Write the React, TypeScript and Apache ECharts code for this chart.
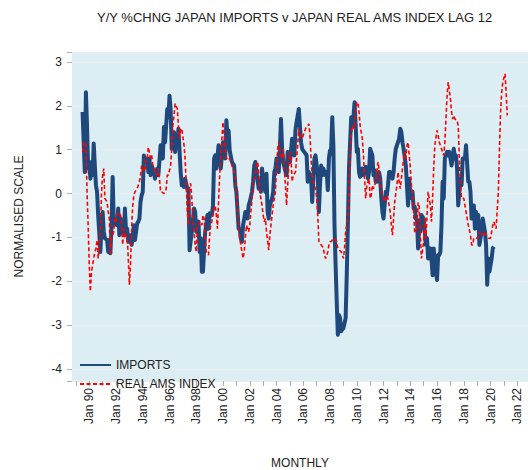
import React, { useEffect, useRef } from "react";
import * as echarts from "echarts";

const TITLE = "Y/Y %CHNG JAPAN IMPORTS v JAPAN REAL AMS INDEX LAG 12";
const SERIES_NAMES = ["IMPORTS", "REAL AMS INDEX"];
const X_AXIS_NAME = "MONTHLY";
const Y_AXIS_NAME = "NORMALISED SCALE";
const BASE_YEAR = 1990; // month 0 = Jan 1990
const X_RANGE = [1988.71, 2022.8];
const Y_RANGE = [-4.274, 3.228];

// [months since Jan 1990, value]
const IMPORTS: [number, number][] = [
  [-6, 1.86], [-5, 1.17], [-4, 0.49], [-3, 2.31], [-2, 1.55], [-1, 0.57], [0, 0.72], [1, 0.34], [2, 0.72], [3, 0.42],
  [4, 1.14], [5, 0.64], [6, 0.19], [7, 0.04], [8, -0.49], [10, -1.33], [11, -0.72], [12, -0.42], [13, -0.87], [14, -1.02],
  [16, -1.06], [17, -1.33], [18, -1.06], [19, -1.36], [20, -0.72], [21, 0.38], [22, -0.72], [23, -0.57], [25, -0.72], [26, -0.34],
  [27, -0.95], [28, -0.57], [29, -0.87], [31, -0.95], [32, -0.34], [33, -0.87], [34, -0.8], [35, -1.1], [37, -0.95], [38, -1.17],
  [39, -1.02], [40, -0.72], [41, -1.06], [43, -0.68], [44, -0.64], [45, -0.57], [46, -0.19], [47, -0.04], [48, 0.04], [49, 0.87],
  [50, 0.72], [52, 0.8], [53, 0.49], [54, 0.8], [55, 0.42], [56, 0.64], [58, 0.49], [59, 0.34], [60, 0.49], [61, 0.57],
  [62, 0.42], [64, 1.1], [65, 1.1], [66, 0.8], [67, 1.52], [68, 1.17], [70, 1.93], [71, 1.74], [72, 2.23], [73, 1.93],
  [74, 1.02], [76, 1.4], [77, 0.95], [78, 1.17], [79, 1.1], [80, 1.48], [82, 0.49], [83, 0.19], [84, 0.27], [85, 0.15],
  [86, 0.34], [88, 0.11], [89, 0.08], [90, -1.29], [92, -0.87], [94, -0.34], [95, -0.42], [96, -0.87], [98, -0.64], [99, -1.33],
  [100, -1.02], [101, -1.78], [102, -1.78], [104, -0.87], [105, -0.72], [106, -0.49], [107, -0.8], [108, -0.45], [110, -0.49], [111, -0.27],
  [112, 0.8], [113, 0.87], [114, 0.57], [116, 1.1], [117, 0.95], [118, 0.57], [119, 0.87], [120, 1.17], [122, 0.8], [123, 1.67],
  [124, 1.33], [125, 1.44], [126, 0.98], [128, 0.72], [129, 0.68], [130, 0.64], [131, 0.19], [132, 0.04], [134, -0.8], [135, -0.8],
  [136, -1.02], [137, -1.1], [138, -0.72], [140, -0.42], [141, -0.49], [142, -0.57], [143, -0.27], [144, -0.19], [146, 0.04], [147, 0.27],
  [148, 0.64], [149, 0.72], [150, 0.49], [152, 0.11], [153, 0.19], [154, 0.04], [155, 0.57], [156, 0.34], [158, 0.04], [159, 0.45],
  [160, -0.42], [161, -0.57], [162, -0.27], [164, -0.11], [165, 0.04], [166, 0.49], [167, 0.57], [168, 0.8], [170, 0.49], [171, 1.02],
  [172, 1.7], [173, 1.02], [174, 0.72], [176, 0.5], [177, 0.42], [178, 0.95], [179, 0.9], [180, 0.72], [182, 1.25], [183, 1.0],
  [184, 0.87], [185, 1.45], [186, 1.63], [188, 1.93], [189, 1.55], [190, 1.17], [191, 1.02], [192, 0.98], [194, 0.91], [195, 0.87],
  [196, 0.27], [197, 0.49], [199, 0.35], [200, -0.19], [202, 0.8], [203, 0.87], [205, 0.42], [206, -0.42], [207, 0.19], [208, 0.64],
  [209, 0.42], [210, 0.57], [212, 0.42], [213, 0.49], [214, 0.08], [215, 0.8], [216, 0.98], [217, 1.02], [218, 1.74], [219, 1.1],
  [220, -0.72], [221, -1.63], [222, -2.46], [223, -3.22], [224, -2.77], [225, -2.84], [226, -3.14], [227, -3.1], [228, -3.07], [230, -2.84],
  [231, -1.86], [232, -0.72], [233, 0.57], [234, 1.17], [235, 1.74], [236, 1.55], [237, 1.74], [238, 2.08], [239, 1.55], [240, 0.95],
  [241, 1.02], [242, 0.49], [243, 0.38], [244, 0.49], [245, 0.57], [246, 0.42], [248, 0.61], [249, 0.57], [250, 0.34], [251, 0.49],
  [252, 1.02], [254, 0.87], [255, 0.42], [256, 0.53], [257, 0.27], [258, 0.27], [260, 0.49], [261, 0.34], [262, -0.11], [263, -0.42],
  [264, -0.57], [266, 0.04], [267, -0.04], [268, 0.19], [269, 0.49], [270, 0.49], [272, 0.34], [273, 0.49], [274, 0.8], [275, 1.02],
  [276, 1.1], [278, 1.25], [279, 1.48], [280, 1.4], [281, 1.17], [282, 1.02], [284, 0.64], [285, 0.19], [286, -0.27], [287, 0.34],
  [288, 0.0], [289, -0.1], [290, 0.04], [291, -0.34], [292, -0.3], [293, -0.57], [294, -0.6], [295, -1.25], [296, -0.72], [297, -0.87],
  [298, -0.49], [300, -0.57], [301, -0.87], [302, -1.17], [303, -1.02], [304, -1.48], [306, -1.25], [307, -1.48], [308, -1.86], [309, -1.25],
  [310, -1.63], [312, -1.97], [313, -1.4], [314, -1.4], [315, -1.33], [316, -0.72], [317, 0.27], [318, -0.11], [319, 0.8], [321, 0.95],
  [322, 0.87], [323, 0.95], [324, 0.8], [325, 0.64], [327, 1.02], [328, 0.8], [329, 0.87], [330, 0.57], [331, -0.27], [333, 0.34],
  [334, 0.19], [335, 0.8], [336, 0.8], [337, 0.8], [338, 1.1], [340, 0.27], [341, 0.27], [342, 0.04], [343, -0.57], [345, -0.27],
  [346, -0.8], [347, -0.42], [348, -0.72], [349, -0.49], [350, -1.17], [352, -0.87], [353, -0.57], [354, -0.72], [355, -0.87], [356, -1.17],
  [357, -2.08], [358, -1.48], [359, -1.78], [361, -1.48], [362, -1.25], [363, -1.21],
];

// [months since Jan 1990, value] (already lagged 12 months)
const REAL_AMS: [number, number][] = [
  [-6, 0.95], [-5, 1.17], [-3, 1.17], [-2, 0.04], [-1, -0.72], [0, -1.63], [1, -2.23], [2, -1.78], [4, -1.48], [5, -1.33],
  [6, -1.25], [7, -1.06], [8, -1.48], [10, -0.87], [11, 0.04], [12, 0.42], [13, 0.57], [14, -0.11], [16, -0.19], [17, -0.42],
  [18, -0.57], [19, -1.4], [20, -1.02], [22, -0.87], [23, -0.57], [24, -0.64], [25, -0.49], [26, -0.42], [28, -0.49], [29, -0.64],
  [30, -1.17], [31, -0.8], [32, -1.02], [34, -0.95], [35, -1.48], [36, -2.08], [37, -1.63], [38, -0.8], [39, -0.27], [40, -0.04],
  [41, 0.04], [43, 0.11], [44, 0.19], [45, 0.27], [46, 0.42], [47, 0.64], [49, 0.49], [50, 0.57], [51, 0.8], [52, 0.8],
  [53, 1.06], [55, 0.8], [56, 0.87], [57, 0.64], [58, 0.57], [59, 0.49], [61, 0.42], [62, 0.57], [63, 0.34], [64, 0.04],
  [65, 0.04], [67, 0.0], [68, 0.04], [69, 0.11], [70, 0.42], [71, 0.42], [73, 0.64], [74, 1.02], [75, 1.55], [76, 1.78],
  [77, 2.05], [79, 1.93], [80, 1.55], [81, 1.25], [82, 1.48], [83, 1.48], [85, 1.1], [86, 0.8], [87, 0.19], [88, -0.42],
  [89, -0.72], [90, 0.19], [91, 0.23], [92, -0.11], [93, -0.57], [95, -1.17], [96, -1.33], [97, -0.72], [98, -0.72], [99, -0.64],
  [101, -0.72], [102, -0.49], [103, -0.57], [104, -1.02], [105, -1.33], [107, -1.4], [108, -0.95], [109, -0.72], [110, -0.64], [111, -0.42],
  [113, -0.27], [114, -0.49], [115, -0.8], [116, -0.19], [117, 0.42], [119, 1.25], [120, 1.63], [121, 1.33], [122, 1.02], [123, 0.8],
  [125, 0.76], [126, 0.8], [127, 0.72], [128, 0.64], [129, 0.57], [131, 0.42], [132, 0.04], [133, -0.34], [134, -0.72], [135, -1.02],
  [137, -1.33], [138, -1.48], [139, -1.33], [140, -1.02], [141, -0.72], [143, -0.87], [144, -0.72], [145, -0.42], [146, -0.11], [147, 0.19],
  [149, 0.42], [150, 0.64], [151, 0.72], [152, 0.49], [153, 0.04], [155, -0.27], [156, -0.49], [157, -0.64], [158, -0.57], [159, -0.87],
  [161, -1.29], [162, -0.95], [163, -0.72], [164, -0.49], [165, -0.27], [167, 0.04], [168, 0.57], [169, 1.02], [170, 1.17], [171, 0.95],
  [173, 0.8], [174, 1.02], [175, 0.57], [176, 0.19], [177, -0.27], [179, 0.64], [180, 0.95], [181, 0.8], [182, 0.27], [183, 0.42],
  [185, 0.49], [186, 0.8], [187, 1.1], [188, 1.48], [189, 1.33], [191, 1.25], [192, 1.33], [193, 1.4], [194, 1.48], [196, 1.55],
  [197, 1.59], [198, 1.33], [199, 0.8], [200, 0.42], [202, 0.19], [203, 0.11], [204, -0.11], [205, -0.49], [206, -1.1], [208, -1.17],
  [209, -1.2], [210, -1.25], [211, -1.4], [212, -1.48], [214, -1.33], [215, -1.17], [216, -1.1], [217, -1.1], [218, -1.06], [220, -1.02],
  [221, -1.06], [222, -1.1], [223, -1.25], [224, -1.28], [226, -1.33], [227, -1.4], [228, -1.48], [229, -1.25], [230, -0.87], [232, -0.57],
  [233, 0.04], [234, 0.8], [235, 1.33], [236, 1.55], [238, 1.48], [239, 1.86], [240, 2.08], [241, 2.08], [242, 1.86], [243, 1.55],
  [245, 1.25], [246, 0.87], [247, 0.34], [248, -0.11], [249, 0.19], [251, 0.34], [252, -0.11], [253, -0.04], [254, 0.19], [255, 0.11],
  [257, 0.27], [258, 0.49], [259, 0.72], [260, 0.57], [261, 0.19], [263, -0.04], [264, -0.1], [265, -0.19], [266, -0.12], [267, -0.04],
  [268, -0.12], [270, -0.42], [271, -0.72], [272, -0.95], [273, -0.57], [274, -0.19], [276, 0.19], [277, 0.49], [278, 0.27], [279, 0.11],
  [280, 0.34], [282, 0.8], [283, 0.95], [284, 0.8], [285, 1.1], [286, 1.17], [288, 0.6], [289, 0.2], [290, -0.05], [291, -0.45],
  [292, -0.9], [294, -0.8], [295, -0.2], [296, -0.3], [297, -0.95], [298, -1.48], [300, -1.1], [301, -0.57], [302, -1.02], [303, -0.49],
  [304, 0.04], [306, -0.27], [307, -0.64], [308, -0.11], [309, 0.57], [310, 1.1], [312, 1.44], [313, 1.33], [314, 1.17], [315, 1.1],
  [316, 1.02], [318, 0.87], [319, 1.17], [320, 1.7], [321, 2.23], [322, 2.54], [324, 2.16], [325, 1.86], [326, 1.7], [327, 1.78],
  [328, 1.7], [330, 1.67], [331, 1.55], [332, 0.8], [333, 0.19], [334, -0.11], [336, -0.11], [337, -0.27], [338, -0.42], [339, -0.57],
  [340, -0.72], [342, -0.95], [343, -1.17], [344, -1.17], [345, -1.02], [346, -1.0], [348, -1.02], [349, -1.0], [350, -0.87], [351, -0.95],
  [352, -0.92], [354, -0.92], [355, -0.87], [356, -0.95], [357, -0.99], [358, -1.02], [360, -1.02], [361, -0.87], [362, -0.72], [363, -0.64],
  [364, -0.72], [365, -0.8], [367, 0.04], [368, 1.02], [369, 1.86], [370, 2.31], [371, 2.54], [373, 2.73], [374, 2.31], [375, 1.78],
];

const FONT = "'Liberation Sans', Arial, sans-serif";
const TEXT_COLOR = "#222";

const toXY = (rows: [number, number][]) => rows.map(([m, v]) => [BASE_YEAR + m / 12, v]);

const isInt = (v: number) => Math.abs(v - Math.round(v)) < 1e-6;

export default function App() {
  const ref = useRef<HTMLDivElement>(null);
  useEffect(() => {
    if (!ref.current) return;
    const chart = echarts.init(ref.current, undefined, { renderer: "svg" });
    chart.setOption({
      animation: false,
      backgroundColor: "#ffffff",
      textStyle: { fontFamily: FONT },
      title: {
        text: TITLE,
        left: 97,
        top: 11,
        padding: 0,
        textStyle: { fontSize: 13, fontWeight: "normal", color: TEXT_COLOR, fontFamily: FONT },
      },
      grid: {
        left: 72,
        right: 0,
        top: 52,
        bottom: 89,
        show: true,
        backgroundColor: "#dceef3",
        borderWidth: 0,
        containLabel: false,
        outerBoundsMode: "none",
      },
      legend: {
        data: SERIES_NAMES,
        orient: "vertical",
        left: 79,
        top: 359,
        padding: 0,
        itemWidth: 31,
        itemHeight: 10,
        itemGap: 7,
        itemStyle: { opacity: 0 },
        textStyle: { fontSize: 12, color: TEXT_COLOR, fontFamily: FONT },
      },
      xAxis: {
        type: "value",
        min: X_RANGE[0],
        max: X_RANGE[1],
        splitNumber: 34,
        minInterval: 1,
        maxInterval: 1,
        name: X_AXIS_NAME,
        nameLocation: "middle",
        nameGap: 76,
        nameTextStyle: { fontSize: 12, color: TEXT_COLOR, fontFamily: FONT },
        axisLine: { show: false, onZero: false },
        axisTick: { show: true, length: 5, lineStyle: { color: "#b0b0b0" } },
        splitLine: { show: false },
        axisLabel: {
          rotate: 90,
          margin: 7,
          fontSize: 12,
          color: TEXT_COLOR,
          fontFamily: FONT,
          showMinLabel: false,
          showMaxLabel: false,
          formatter: (v: number) => {
            if (!isInt(v)) return "";
            const y = Math.round(v);
            if (y % 2 !== 0) return "";
            return "Jan " + String(y % 100).padStart(2, "0");
          },
        },
      },
      yAxis: {
        type: "value",
        min: Y_RANGE[0],
        max: Y_RANGE[1],
        splitNumber: 7,
        minInterval: 1,
        maxInterval: 1,
        name: Y_AXIS_NAME,
        nameLocation: "middle",
        nameGap: 47,
        nameTextStyle: { fontSize: 12, color: TEXT_COLOR, fontFamily: FONT },
        axisLine: { show: false, onZero: false },
        axisTick: { show: true, length: 5, lineStyle: { color: "#b0b0b0" } },
        splitLine: { show: true, lineStyle: { color: "#e8edef", width: 1 } },
        axisLabel: {
          margin: 10,
          fontSize: 12,
          color: TEXT_COLOR,
          fontFamily: FONT,
          formatter: (v: number) => (isInt(v) ? String(Math.round(v)) : ""),
        },
      },
      series: [
        {
          name: SERIES_NAMES[0],
          type: "line",
          data: toXY(IMPORTS),
          symbol: "none",
          lineStyle: { color: "#1f497d", width: 4, join: "round" },
          itemStyle: { color: "#1f497d" },
        },
        {
          name: SERIES_NAMES[1],
          type: "line",
          data: toXY(REAL_AMS),
          symbol: "none",
          lineStyle: { color: "#ff0000", width: 1.6, type: [4, 2.5] },
          itemStyle: { color: "#ff0000" },
        },
      ],
    });
    return () => chart.dispose();
  }, []);
  return <div ref={ref} style={{ width: 528, height: 470, position: "absolute", left: 0, top: 0 }} />;
}
